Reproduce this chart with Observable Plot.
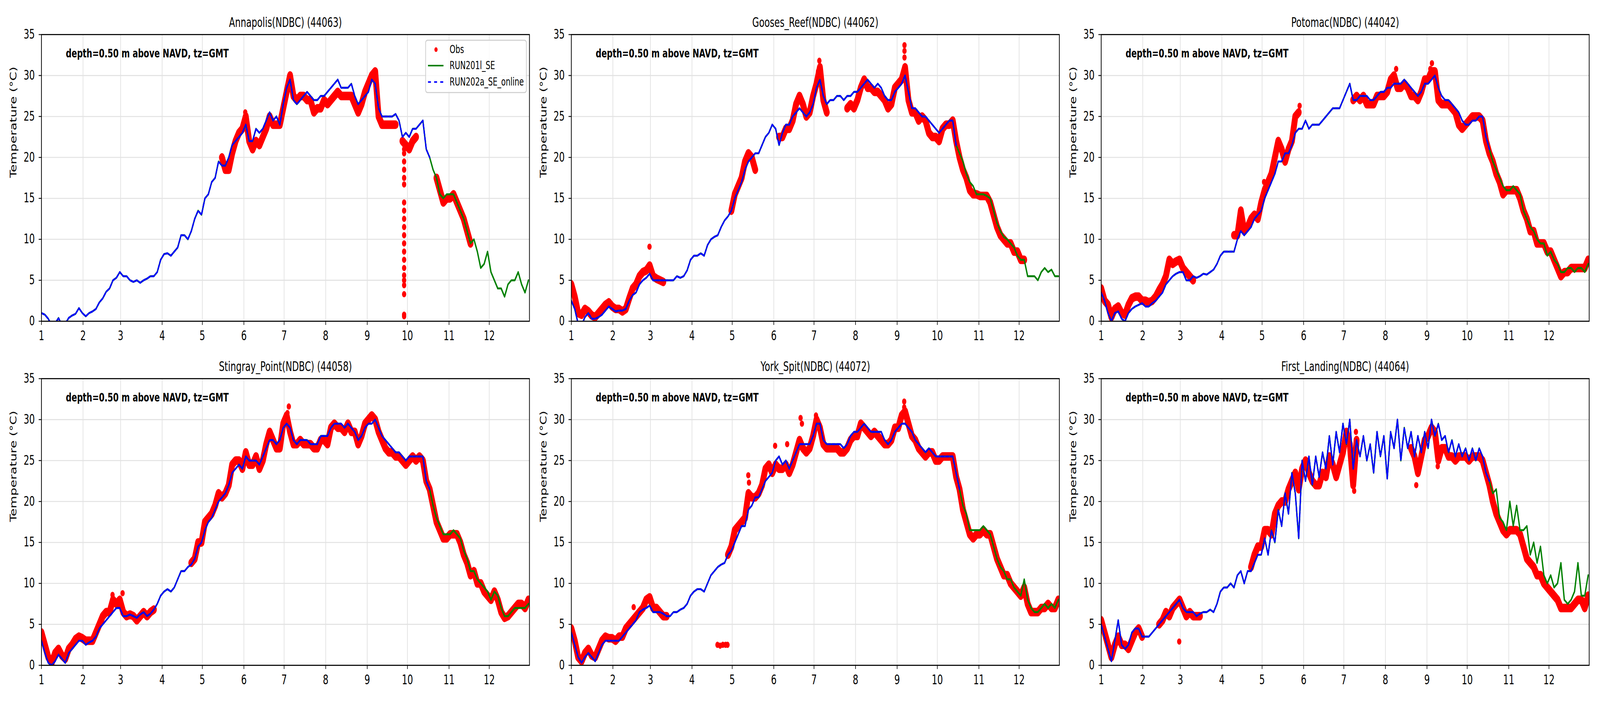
<!DOCTYPE html>
<html>
<head>
<meta charset="utf-8">
<script src="https://cdn.jsdelivr.net/npm/d3@7"></script>
<script src="https://cdn.jsdelivr.net/npm/@observablehq/plot@0.6"></script>
<style>
  html, body { margin: 0; padding: 0; background: #ffffff; overflow: hidden; }
  #wrap { position: relative; width: 6000px; height: 1800px; background: #ffffff; font-family: "DejaVu Sans", sans-serif; overflow: hidden; transform-origin: 0 0; }
  .panel { position: absolute; max-width: none !important; }
</style>
</head>
<body>
<div id="wrap"></div>
<script>
// ---------------- data ----------------
const STEP = 2.54; // sampling interval (days) of the series below, starting Jan 1
const monthStarts = [0, 31, 59, 90, 120, 151, 181, 212, 243, 273, 304, 334];
const monthLabels = ["1","2","3","4","5","6","7","8","9","10","11","12"];
const yTicks = [0, 5, 10, 15, 20, 25, 30, 35];
const seriesNames = ["Obs", "RUN201l_SE", "RUN202a_SE_online"];
const annotation = "depth=0.50 m above NAVD, tz=GMT";
const yLabel = "Temperature (°C)";
const titles = ["Annapolis(NDBC) (44063)", "Gooses_Reef(NDBC) (44062)", "Potomac(NDBC) (44042)",
                "Stingray_Point(NDBC) (44058)", "York_Spit(NDBC) (44072)", "First_Landing(NDBC) (44064)"];
const blueEnd = [290, 289, 290, 292, 291, 292]; // day where RUN202a_SE_online stops

const annapolisModel = [1.0,0.8,0.3,-0.5,-0.3,0.4,-0.5,-0.3,0.4,0.7,0.9,1.6,1.0,0.6,1.0,1.2,1.5,2.3,2.8,3.6,4.0,5.0,5.3,6.0,5.5,5.5,5.0,4.8,5.0,4.7,5.0,5.2,5.5,5.5,6.0,7.5,8.2,8.3,8.0,8.5,9.0,10.5,10.5,10.0,11.0,12.5,13.5,13.0,15.0,15.5,17.0,17.5,19.5,19.0,19.0,20.0,21.5,22.0,22.5,23.0,24.0,22.0,22.0,23.5,23.0,23.5,24.5,25.5,24.5,25.0,24.0,26.5,28.5,29.5,27.0,26.5,27.0,27.5,28.0,27.5,27.0,27.0,27.5,27.5,28.0,28.5,29.0,29.5,28.5,28.5,28.5,29.0,27.5,26.5,27.0,27.5,28.0,29.5,29.0,26.0,25.0,25.0,25.0,25.0,25.3,24.5,22.5,23.0,22.5,23.5,23.5,24.0,24.5,21.0,20.0,18.5,17.5,15.5,15.0,15.5,15.5,15.5,14.5,13.5,12.5,11.0,9.5,10.0,8.5,6.5,7.0,8.5,6.0,5.0,4.0,4.0,3.0,4.5,5.0,5.0,6.0,4.5,3.5,5.0];
const annapolisObs = [null,null,null,null,null,null,null,null,null,null,null,null,null,null,null,null,null,null,null,null,null,null,null,null,null,null,null,null,null,null,null,null,null,null,null,null,null,null,null,null,null,null,null,null,null,null,null,null,null,null,null,null,null,20.0,18.5,18.5,20.5,22.0,23.0,23.5,25.0,22.0,21.0,22.0,21.5,22.5,23.5,25.0,24.0,24.0,24.0,26.0,28.0,30.0,27.5,27.0,27.5,27.5,27.0,27.0,25.5,26.0,26.0,27.0,26.5,27.0,27.5,28.0,27.5,27.5,27.5,27.5,26.5,25.5,26.5,28.0,29.0,30.0,30.5,25.0,24.0,24.0,24.0,24.0,24.0,null,22.0,21.5,21.0,22.0,22.5,null,null,null,null,null,17.5,16.0,14.5,15.0,15.0,15.5,14.5,13.5,12.5,11.0,9.5,null,null,null,null,null,null,null,null,null,null,null,null,null,null,null,null,null];
const annapolisObsExtra = [[270.5,0.6],[270.5,0.8],[270.5,3.3],[270.5,4.4],[270.5,5.0],[270.5,5.6],[270.5,6.5],[270.5,7.5],[270.5,8.5],[270.5,9.5],[270.5,10.5],[270.5,11.5],[270.5,12.5],[270.5,13.5],[270.5,14.5],[270.5,16.7],[270.5,17.5],[270.5,18.5],[270.5,19.5],[270.5,20.5],[270.5,21.0],[152,25.5],[150.5,23.8]];

const goosesModel = [2.5,1.5,-0.3,-0.5,0.5,1.0,0.3,0.3,0.5,0.8,1.3,1.8,1.5,1.2,1.3,1.3,1.5,2.5,3.2,3.5,4.5,5.0,5.3,5.8,5.0,5.0,5.0,5.0,5.0,5.0,5.0,5.5,5.3,5.5,6.2,7.5,8.0,8.0,8.3,8.0,9.3,10.0,10.3,10.5,11.5,12.3,12.8,13.5,15.0,16.0,17.0,18.5,19.5,20.0,20.5,20.5,21.5,22.5,23.0,24.0,23.5,21.5,23.0,24.0,24.0,25.0,25.5,26.0,25.5,25.0,25.5,26.5,28.5,29.5,27.5,26.5,27.0,27.0,27.5,27.5,27.0,27.5,27.5,28.0,28.0,28.5,29.0,29.5,29.0,28.5,29.0,28.5,27.5,27.0,27.0,28.0,28.5,29.0,30.0,28.0,26.0,26.0,25.5,25.0,25.0,24.5,24.0,23.5,23.0,23.5,24.0,24.5,24.5,21.5,20.5,19.5,18.0,17.0,16.5,15.5,15.5,15.5,15.3,15.0,13.5,12.0,11.0,10.3,10.0,9.5,9.0,8.0,7.5,7.5,5.5,5.5,5.5,5.0,6.0,6.5,6.0,6.3,5.5,5.5];
const goosesObs = [4.5,3.0,1.0,0.8,1.5,1.2,0.7,0.5,1.0,1.5,2.0,2.3,1.8,1.5,1.5,1.2,1.5,2.8,4.0,4.5,5.5,6.0,6.2,6.8,5.5,5.2,5.0,4.8,null,null,null,null,null,null,null,null,null,null,null,null,null,null,null,null,null,null,null,13.5,15.5,16.5,17.5,19.5,20.5,20.0,18.5,null,null,null,null,null,null,22.5,22.5,23.5,23.5,24.5,26.5,27.5,26.5,25.0,25.5,27.5,29.0,31.0,27.0,25.5,null,null,null,null,null,26.0,26.5,26.0,27.0,28.5,29.5,28.5,28.5,28.0,28.0,27.5,27.0,26.0,26.5,28.5,29.0,29.5,31.0,27.0,25.5,25.5,24.5,25.0,24.5,23.0,22.5,22.5,22.0,23.5,24.0,24.0,24.5,22.0,20.0,18.5,17.5,16.0,15.5,15.5,15.3,15.3,15.3,14.5,13.0,11.5,10.5,10.0,9.5,9.5,8.5,8.5,7.5,7.5,null,null,null,null,null,null,null,null,null,null];
const goosesObsExtra = [[58.3,9.1],[248.5,32.2],[248.5,33.0],[248.5,33.7],[185,31.8],[184,30.5]];

const potomacModel = [3.5,2.5,1.0,0.0,1.0,1.2,0.3,0.0,1.0,1.5,1.8,2.0,2.2,1.8,1.8,2.2,2.5,3.0,3.5,4.5,5.0,5.5,5.8,6.0,6.0,5.0,5.0,5.5,5.3,5.5,5.8,5.7,6.0,6.3,7.0,8.0,8.5,8.5,8.5,8.5,10.0,11.0,10.5,11.0,11.5,12.5,13.0,13.5,15.0,16.0,17.0,18.0,19.5,19.5,20.5,20.5,21.5,23.0,23.5,23.5,24.5,23.5,24.0,24.0,24.0,24.5,25.0,25.5,26.0,26.0,26.0,27.0,28.0,29.0,27.0,27.0,27.5,27.5,27.5,27.0,27.0,27.5,28.0,28.0,28.5,28.5,29.0,29.0,29.0,29.5,29.0,28.5,28.0,27.5,28.0,29.0,29.0,29.5,30.0,28.5,27.5,27.0,27.0,26.5,26.0,25.5,24.5,24.0,24.0,24.5,24.5,25.0,25.0,22.5,21.0,19.5,18.5,17.5,16.5,16.0,16.0,16.5,16.0,15.5,13.5,12.5,11.5,11.0,10.0,9.5,9.5,8.0,8.5,7.5,7.0,6.0,6.0,6.5,6.5,6.0,6.5,6.5,6.0,7.0];
const potomacObs = [4.0,2.5,2.0,0.5,1.5,1.8,1.0,0.8,2.0,2.8,3.0,3.0,2.5,2.5,2.3,2.5,3.0,3.8,4.5,5.5,7.5,7.0,7.3,7.5,6.5,6.0,5.5,5.0,null,null,null,null,null,null,null,null,null,null,null,10.5,10.5,13.5,11.0,11.5,12.5,13.0,12.5,14.5,16.0,17.0,18.0,20.0,22.0,21.0,19.5,21.0,22.0,25.0,25.5,null,null,null,null,null,null,null,null,null,null,null,null,null,null,null,27.0,27.5,27.0,27.5,26.5,26.5,26.5,27.5,27.5,27.5,28.0,29.5,30.0,28.5,28.5,29.0,28.5,27.5,27.5,27.0,28.0,29.5,29.5,30.5,30.5,27.0,26.5,26.5,26.5,26.0,25.5,24.0,23.5,24.0,24.5,25.0,25.0,25.0,24.5,22.0,20.5,19.5,18.0,17.0,15.5,16.0,16.0,16.0,16.0,15.0,13.5,12.5,11.0,11.0,9.5,9.5,9.5,8.5,8.5,7.5,6.5,5.5,6.0,6.0,6.5,6.5,6.5,6.5,6.5,7.5];
const potomacObsExtra = [[121.5,17.0],[121.5,15.5],[246.7,31.5],[245.5,30.8],[220,30.8],[148,26.3]];

const stingrayModel = [3.0,1.5,0.3,0.0,0.5,1.3,0.8,0.3,1.5,2.0,2.5,3.0,3.0,2.5,2.8,3.0,3.5,4.5,5.0,5.5,6.0,6.5,7.0,7.0,6.0,6.0,6.2,6.0,5.8,6.2,6.5,6.0,6.3,6.8,7.5,8.5,9.0,9.3,9.0,9.5,10.5,11.5,11.5,12.0,12.3,13.0,14.5,15.0,16.5,17.5,18.0,19.0,20.0,20.5,21.0,22.0,23.5,24.0,24.5,24.0,25.5,25.0,25.0,25.0,24.5,25.5,26.5,27.5,27.5,27.0,27.5,29.0,29.5,29.0,27.5,27.0,27.5,27.5,27.5,27.0,27.0,27.0,28.0,28.0,28.0,29.0,29.5,29.5,29.5,29.0,29.5,29.0,28.5,27.5,28.0,29.0,29.5,29.5,30.0,29.0,28.0,27.5,27.0,26.5,26.0,26.0,25.5,25.0,25.5,25.5,25.5,25.5,25.5,22.5,21.5,19.5,18.0,17.0,16.0,16.0,16.0,16.5,16.0,15.5,14.0,13.0,11.5,11.5,10.5,10.0,9.5,9.0,8.0,9.0,8.5,7.0,6.0,6.0,6.5,7.0,7.0,7.0,7.0,7.5];
const stingrayObs = [4.0,2.5,1.0,0.3,1.5,2.0,1.2,0.8,2.0,2.5,3.2,3.5,3.3,3.0,3.0,3.0,4.0,5.0,6.0,6.5,6.5,8.0,7.5,8.0,6.5,6.0,6.2,6.0,5.5,6.0,6.5,6.0,6.5,6.8,null,null,null,null,null,null,null,null,null,null,12.5,13.0,15.0,15.0,17.5,18.0,18.5,19.5,21.0,20.5,21.0,22.0,24.5,25.0,25.0,24.0,26.0,24.5,24.5,25.5,24.0,25.0,27.0,28.5,27.5,26.5,26.5,29.5,30.5,28.5,27.0,27.0,27.5,27.0,27.0,27.0,26.5,26.5,27.5,27.5,27.0,29.0,29.5,29.0,29.0,28.5,29.5,28.5,28.5,27.0,28.0,29.5,30.0,30.5,30.0,28.5,27.5,26.5,26.0,26.0,25.5,25.5,25.0,24.5,25.0,25.5,25.0,25.5,25.0,22.5,21.5,19.5,17.5,16.5,15.5,15.5,16.0,16.0,16.0,15.0,13.5,12.5,11.0,11.5,10.0,10.0,9.0,8.5,8.0,9.0,8.0,6.5,5.8,6.0,6.5,7.0,7.5,7.5,7.0,8.0];
const stingrayObsExtra = [[184.5,31.6],[183.5,30.8],[53,8.6],[60.5,8.8]];

const yorkModel = [4.0,2.5,1.0,0.3,1.0,1.5,1.0,0.5,1.5,2.5,3.0,3.0,3.0,3.0,3.0,3.5,4.0,4.5,5.0,5.5,6.5,6.8,7.0,7.3,6.5,6.5,6.5,6.3,6.0,6.0,6.5,6.5,6.8,7.0,7.5,8.5,9.0,9.3,9.3,9.0,10.0,11.0,11.5,12.0,12.3,12.5,13.5,14.0,15.0,16.0,17.0,17.0,19.0,19.5,20.5,20.5,21.5,22.5,23.0,23.5,25.0,25.5,24.5,25.0,24.0,25.0,26.0,27.0,27.0,27.0,27.0,28.0,29.5,29.5,27.5,27.0,27.0,27.0,27.0,27.0,26.5,27.0,28.0,28.5,28.5,29.0,29.5,29.0,28.5,28.5,28.5,28.5,27.5,27.0,27.5,28.5,29.0,29.5,29.5,29.0,28.5,27.5,27.0,26.5,26.0,26.5,26.0,25.5,25.5,25.5,25.5,25.5,25.5,23.5,21.5,19.5,18.5,16.5,16.5,16.5,16.5,17.0,16.5,16.0,14.5,13.0,12.0,11.5,10.5,10.5,9.5,9.0,8.5,10.5,8.0,7.0,6.5,6.5,7.0,7.5,7.0,7.5,7.0,8.0];
const yorkObs = [4.5,3.0,1.0,0.5,1.5,2.0,1.2,1.0,2.0,3.0,3.5,3.3,3.3,3.0,3.5,3.5,4.5,5.0,5.5,6.0,6.5,7.0,8.0,8.3,7.0,7.0,6.5,6.0,6.0,null,null,null,null,null,null,null,null,null,null,null,null,null,null,null,null,null,13.5,14.5,16.5,17.0,17.5,18.0,21.0,20.5,20.5,21.0,22.0,24.0,24.5,23.5,24.5,24.0,24.0,24.5,23.5,24.5,26.0,27.5,26.5,26.0,26.5,28.0,30.0,29.0,27.0,26.5,26.5,26.5,26.5,26.0,26.0,26.5,27.5,28.0,28.0,29.5,29.0,28.5,28.0,28.5,28.0,27.5,27.0,27.0,27.5,29.0,29.0,30.5,31.0,29.5,28.0,27.5,26.5,26.0,25.5,26.0,26.0,25.0,25.0,25.5,25.5,25.5,25.5,23.0,21.5,19.0,17.5,16.0,15.5,16.0,16.0,16.5,16.0,16.0,14.5,13.0,12.0,11.0,11.0,10.0,9.5,9.0,8.5,9.5,7.5,6.5,6.5,6.5,7.0,7.0,7.5,7.0,7.0,8.0];
const yorkObsExtra = [[46.5,7.1],[132,23.2],[132.5,22.3],[152,26.8],[161,27.0],[248.3,32.2],[248.3,31.5],[171,30.2],[172,29.5],[182.5,30.5],[109,2.5],[111,2.4],[113,2.5],[115,2.5],[116.5,2.5]];

const firstLandingModel = [5.0,3.5,2.0,0.5,3.0,5.5,2.5,2.0,2.5,4.0,4.5,4.5,3.5,3.5,3.5,4.0,4.5,5.0,5.5,6.0,6.5,7.0,7.5,8.0,7.0,6.5,6.5,6.5,6.0,6.3,6.5,6.5,6.8,6.5,7.5,9.0,9.5,9.5,10.0,9.5,11.0,11.5,10.0,11.5,11.5,12.5,13.5,13.5,15.5,13.5,16.5,15.0,19.0,17.0,21.0,18.5,23.5,21.0,15.5,25.0,22.5,25.5,22.0,25.5,23.0,26.0,24.0,28.0,24.5,28.5,26.0,29.5,27.0,30.0,24.0,27.5,25.5,28.0,25.0,27.0,23.5,28.5,25.5,28.0,22.8,28.5,26.5,30.0,25.0,29.0,26.5,28.5,25.5,28.0,26.0,28.5,26.5,30.0,28.0,29.5,27.5,28.0,26.0,27.5,25.5,27.0,25.5,26.5,25.0,26.5,25.0,26.5,25.5,23.5,22.5,21.0,21.5,18.0,17.5,16.5,20.0,17.0,19.5,16.5,16.5,17.0,13.5,15.0,12.5,14.5,11.0,10.0,11.0,9.5,10.0,12.5,8.0,7.5,8.0,9.0,12.5,8.5,8.5,11.0];
const firstLandingObs = [5.5,4.0,2.5,1.0,2.5,3.5,2.5,2.5,2.0,3.0,4.0,4.5,3.5,null,null,null,null,5.0,5.5,6.5,6.0,7.0,7.5,8.0,7.0,6.0,6.5,6.0,6.0,6.0,null,null,null,null,null,null,null,null,null,null,null,null,null,null,12.0,13.5,14.5,14.5,16.5,16.5,16.0,18.5,19.5,20.0,20.0,21.5,22.5,23.5,21.5,24.0,25.0,23.5,22.5,22.0,22.0,23.5,23.0,25.5,24.5,23.0,24.5,26.0,28.5,27.0,22.0,27.5,null,null,null,null,null,null,null,null,null,null,null,null,null,null,null,26.5,25.5,23.5,25.5,27.5,28.0,29.0,28.5,25.0,26.5,26.5,25.5,25.5,25.0,25.5,25.5,25.5,25.0,25.5,25.5,25.5,25.0,23.5,22.0,20.0,18.5,17.5,16.5,16.0,16.5,16.5,16.5,16.0,14.5,13.0,12.5,12.0,11.0,11.0,10.0,9.5,9.0,8.5,8.0,7.0,7.0,7.0,7.0,7.5,8.0,8.0,7.0,8.5];
const firstLandingObsExtra = [[58.2,2.9],[251,24.3],[235,22.0],[188.7,21.3],[190,28.5]];

const models = [annapolisModel, goosesModel, potomacModel, stingrayModel, yorkModel, firstLandingModel];
const observations = [annapolisObs, goosesObs, potomacObs, stingrayObs, yorkObs, firstLandingObs];
const observationExtras = [annapolisObsExtra, goosesObsExtra, potomacObsExtra, stingrayObsExtra, yorkObsExtra, firstLandingObsExtra];

// ---------------- drawing ----------------
const COLORS = {obs: "#ff0000", run201: "#008000", run202: "#0000ff"};
const FONT = "DejaVu Sans";
const wrap = document.getElementById("wrap");
const SVG_W = 1987, SVG_H = 881;

// the figure is laid out at 6000x1800; if the window is narrower it is fitted to it
const sx = Math.min(1, window.innerWidth / 6000);
const sy = Math.min(1, (window.innerHeight || 1800) / 1800);
wrap.style.transform = `scale(${sx}, ${sy})`;

function makePanel(k) {
  const model = models[k].map((v, i) => ({d: i * STEP, v}));
  const blue = model.filter(p => p.d <= blueEnd[k]);
  const obsGrid = observations[k].map((v, i) => ({d: i * STEP, v}));
  const obs = obsGrid.filter(p => p.v != null).concat(observationExtras[k].map(([d, v]) => ({d, v})));
  const chart = Plot.plot({
    width: SVG_W, height: 880,
    marginLeft: 155, marginRight: 2, marginTop: 88, marginBottom: 58,
    style: {fontFamily: FONT, background: "transparent", overflow: "visible"},
    x: {domain: [0, 364], label: null},
    y: {domain: [0, 35], label: null},
    marks: [
      Plot.gridX(monthStarts, {stroke: "#e2e2e2", strokeOpacity: 1, strokeWidth: 2.6}),
      Plot.gridY(yTicks, {stroke: "#e2e2e2", strokeOpacity: 1, strokeWidth: 2.6}),
      Plot.line(obsGrid, {x: "d", y: "v", stroke: COLORS.obs, strokeWidth: 22, strokeLinecap: "round", strokeLinejoin: "round", clip: true}),
      Plot.dot(obs, {x: "d", y: "v", r: 8, fill: COLORS.obs, stroke: "none", clip: true}),
      Plot.line(model, {x: "d", y: "v", stroke: COLORS.run201, strokeWidth: 5, clip: true}),
      Plot.line(blue, {x: "d", y: "v", stroke: COLORS.run202, strokeWidth: 5, strokeDasharray: "12,5", clip: true}),
      Plot.frame({stroke: "#000000", strokeWidth: 2.7}),
      Plot.axisX({ticks: monthStarts, tickFormat: d => monthLabels[monthStarts.indexOf(d)], fontSize: 33,
                  tickSize: 10, tickPadding: 15, strokeWidth: 2.2, label: null, fill: "#000"}),
      Plot.axisY({ticks: yTicks, fontSize: 33, tickSize: 10, tickPadding: 15, strokeWidth: 2.2, label: null, fill: "#000"}),
      Plot.text([titles[k]], {text: d => d, frameAnchor: "top", dy: -20, lineAnchor: "bottom", fontSize: 33, fill: "#000"}),
      Plot.text([annotation], {text: d => d, frameAnchor: "top-left", dx: 91.5, dy: 37, lineAnchor: "top",
                               textAnchor: "start", fontSize: 30, fontWeight: "bold", fill: "#000"}),
      Plot.text([yLabel], {text: d => d, frameAnchor: "left", dx: -104, rotate: -90, fontSize: 33, fill: "#000"})
    ]
  });
  const col = k % 3, row = Math.floor(k / 3);
  chart.classList.add("panel");
  chart.style.left = (col * SVG_W) + "px";
  chart.style.top = (row * SVG_H) + "px";
  wrap.appendChild(chart);
}
for (let k = 0; k < 6; k++) makePanel(k);

// legend (first panel, upper right)
const legend = document.createElementNS("http://www.w3.org/2000/svg", "svg");
legend.setAttribute("width", 382);
legend.setAttribute("height", 138);
legend.style.position = "absolute";
legend.style.left = "1594px";
legend.style.top = "101px";
legend.innerHTML = `
  <rect x="2" y="2" width="378" height="134" rx="7" ry="7" fill="#ffffff" fill-opacity="0.8" stroke="#cccccc" stroke-width="2.7"/>
  <circle cx="41" cy="26" r="6" fill="${COLORS.obs}"/>
  <line x1="11" x2="69" y1="67" y2="67" stroke="${COLORS.run201}" stroke-width="4.2"/>
  <line x1="11" x2="69" y1="109" y2="109" stroke="${COLORS.run202}" stroke-width="4.2" stroke-dasharray="11,12"/>
  <g font-family="${FONT}" font-size="27.8" fill="#000">
    <text x="92" y="26" dominant-baseline="central">${seriesNames[0]}</text>
    <text x="92" y="67" dominant-baseline="central">${seriesNames[1]}</text>
    <text x="92" y="109" dominant-baseline="central">${seriesNames[2]}</text>
  </g>`;
wrap.appendChild(legend);
</script>
</body>
</html>
